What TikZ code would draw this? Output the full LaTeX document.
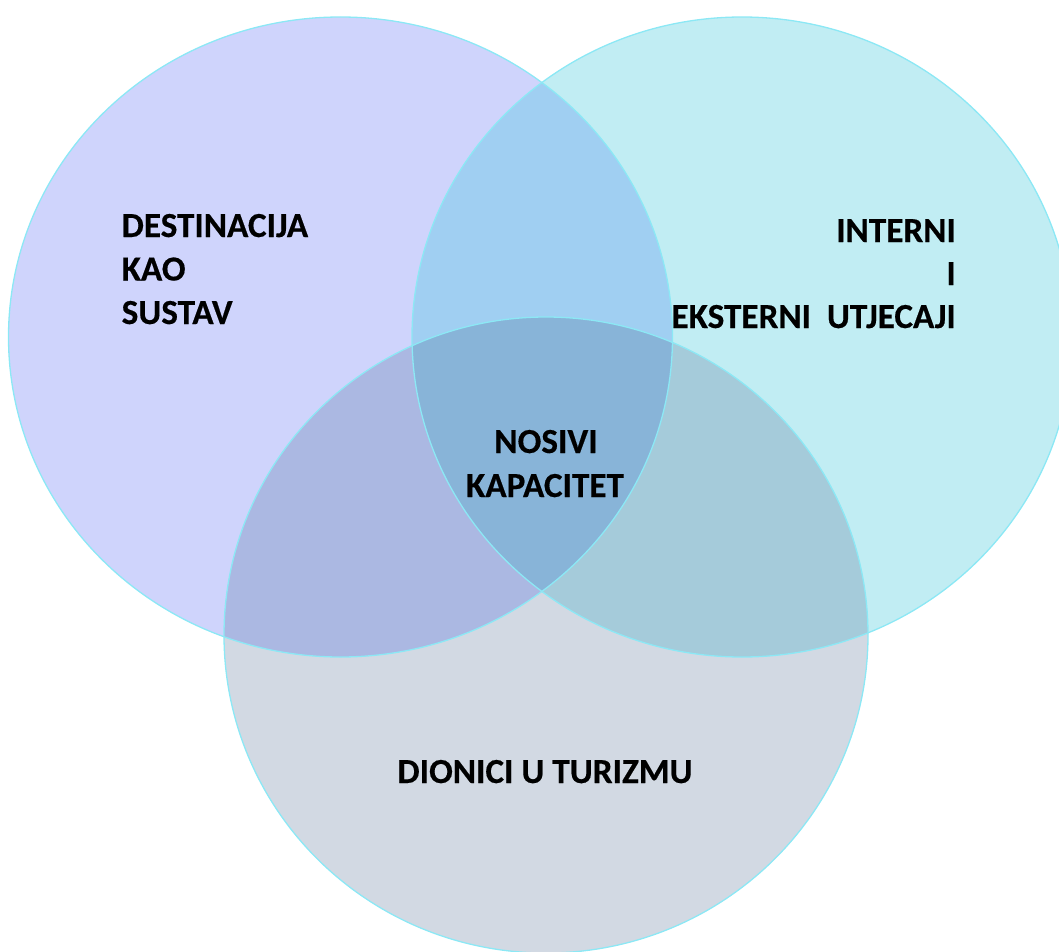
\documentclass[tikz,border=0pt]{standalone}
\usepackage{fontspec}
\setmainfont{Carlito}[BoldFeatures={FakeBold=0.4}]
\definecolor{cOne}{RGB}{207,212,252}
\definecolor{cTwo}{RGB}{193,237,243}
\definecolor{cThree}{RGB}{210,217,227}
\definecolor{cOneTwo}{RGB}{160,207,242}
\definecolor{cOneThree}{RGB}{171,184,226}
\definecolor{cTwoThree}{RGB}{165,203,218}
\definecolor{cAll}{RGB}{136,180,216}
\definecolor{rimcol}{RGB}{140,232,245}
\tikzset{
  circA/.style={insert path={(340.5,337) ellipse [x radius=332, y radius=320]}},
  circB/.style={insert path={(742,337) ellipse [x radius=330, y radius=320]}},
  circC/.style={insert path={(546,635) ellipse [x radius=322, y radius=318]}},
  rim/.style={draw=rimcol, line width=1.3pt},
  lbl/.style={font=\fontsize{35.2}{40}\selectfont\bfseries, inner sep=0pt, text=black}
}
\begin{document}
\begin{tikzpicture}[x=1pt,y=-1pt]
\useasboundingbox (0,0) rectangle (1059,952);
% base fills
\fill[cOne, circA];
\fill[cTwo, circB];
\fill[cThree, circC];
% overlaps
\begin{scope}
  \clip[circA];
  \fill[cOneTwo, circB];
  \fill[cOneThree, circC];
\end{scope}
\begin{scope}
  \clip[circB];
  \fill[cTwoThree, circC];
\end{scope}
\begin{scope}
  \clip[circA];
  \clip[circB];
  \fill[cAll, circC];
\end{scope}
% outlines
\path[rim, circA];
\path[rim, circB];
\path[rim, circC];
% labels
\node[lbl, anchor=base west] (dest1) at (121.5,237) {DESTINACIJA};
\node[lbl, anchor=base west] (dest2) at (121.5,280.5) {KAO};
\node[lbl, anchor=base west] (dest3) at (121.5,324) {SUSTAV};
\node[lbl, anchor=base east] (int1) at (956,242) {INTERNI};
\node[lbl, anchor=base east] (int2) at (956,285) {I};
\node[lbl, anchor=base east] (int3) at (956,328) {EKSTERNI\ \ UTJECAJI};
\node[lbl, anchor=base] (nos1) at (546,453) {NOSIVI};
\node[lbl, anchor=base] (nos2) at (545,497) {KAPACITET};
\node[lbl, anchor=base] (dion) at (545,783) {DIONICI U TURIZMU};
\end{tikzpicture}
\end{document}
